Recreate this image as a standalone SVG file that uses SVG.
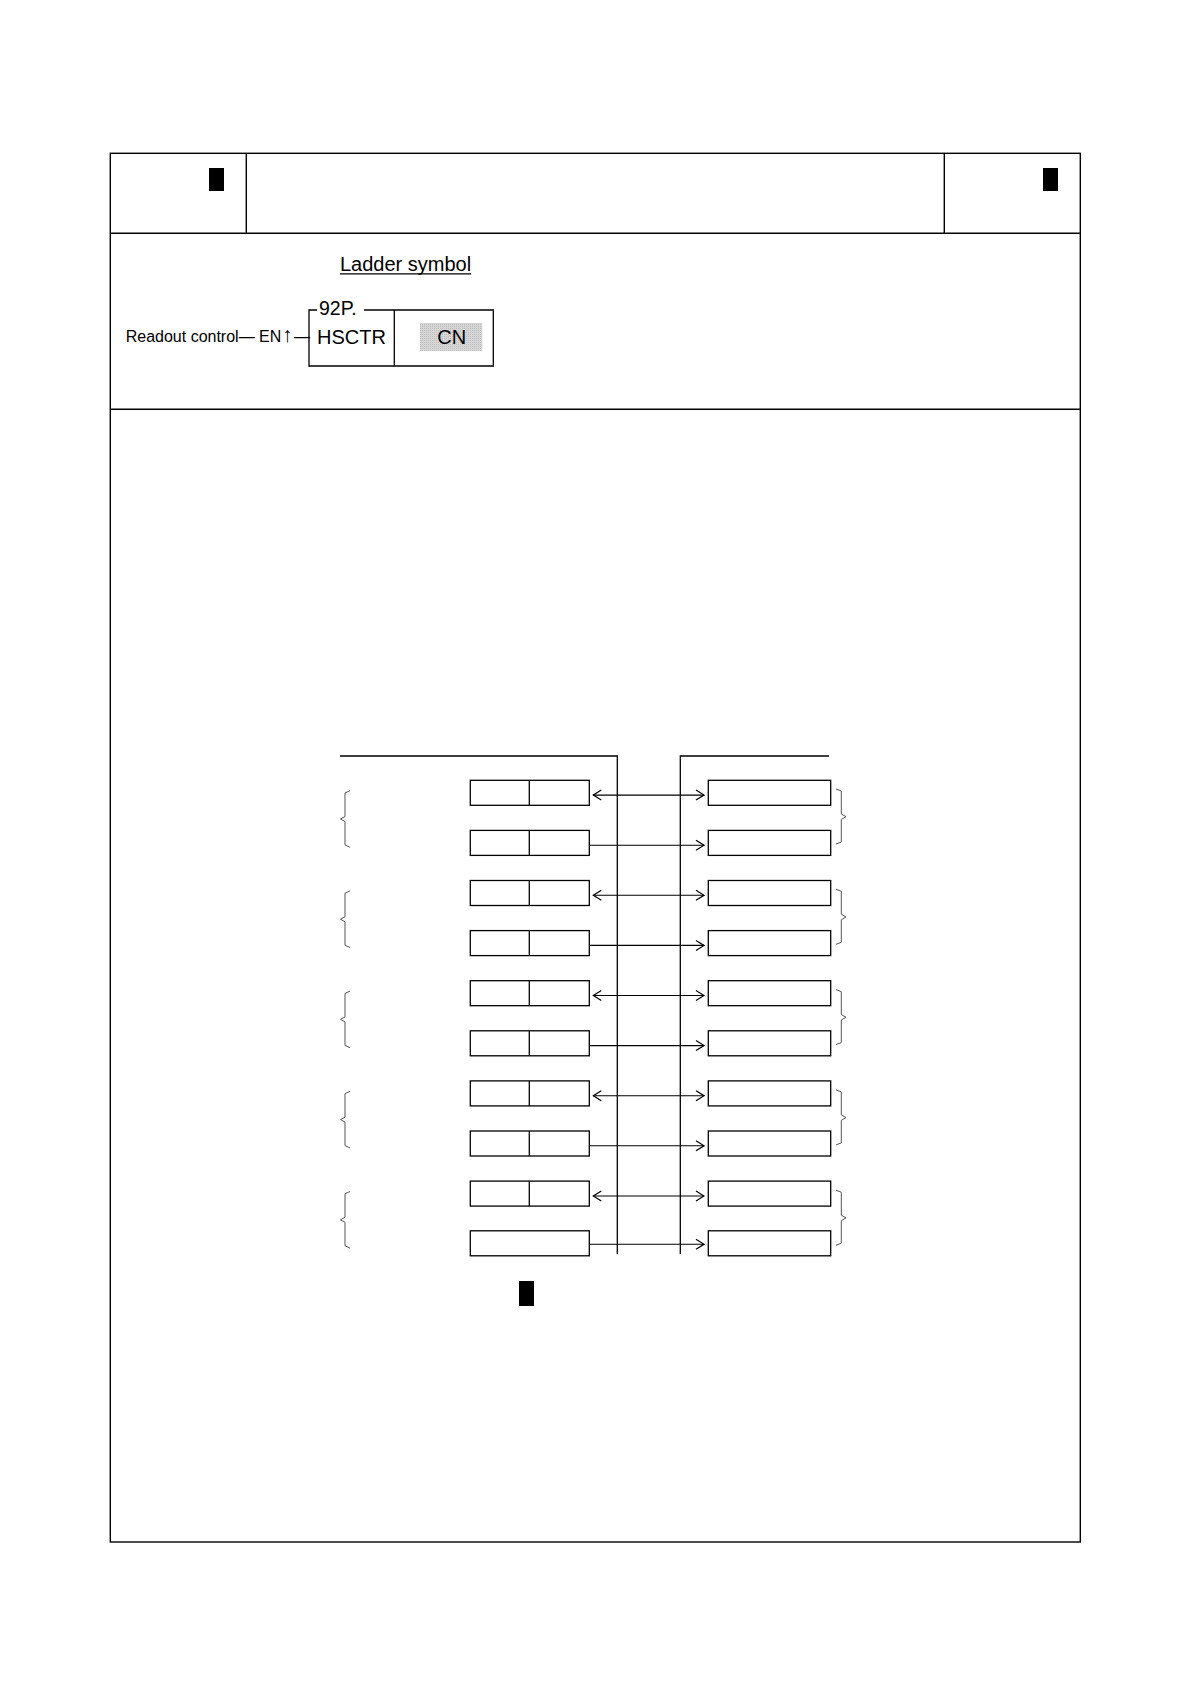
<svg xmlns="http://www.w3.org/2000/svg" width="1190" height="1684" viewBox="0 0 1190 1684">
<style>
.frame{fill:none;stroke:#000;stroke-width:1.4}
.ln{fill:none;stroke:#000;stroke-width:1.3}
.box{fill:#fff;stroke:#000;stroke-width:1.3}
.brace{fill:none;stroke:#555;stroke-width:1}
.conn{fill:none;stroke:#000;stroke-width:1.1}
.blk{fill:#000}
.t{font-family:"Liberation Sans",Arial,sans-serif;fill:#000}
</style>
<defs>
<marker id="ah" viewBox="0 0 10 12" refX="9" refY="6" markerWidth="10" markerHeight="12" markerUnits="userSpaceOnUse" orient="auto-start-reverse">
<path d="M1,1 L9,6 L1,11" fill="none" stroke="#000" stroke-width="1.2"/>
</marker>
<pattern id="hatch" width="2" height="2" patternUnits="userSpaceOnUse">
<rect width="2" height="2" fill="#d6d6d6"/>
<rect width="1" height="1" fill="#bdbdbd"/>
</pattern>
</defs>
<rect width="1190" height="1684" fill="#fff"/>

<g id="frame">
<rect class="frame" x="110.3" y="153.3" width="970" height="1388.7"/>
<line class="frame" x1="110.3" y1="233.3" x2="1080.3" y2="233.3"/>
<line class="frame" x1="246.3" y1="153.3" x2="246.3" y2="233.3"/>
<line class="frame" x1="944.3" y1="153.3" x2="944.3" y2="233.3"/>
<line class="frame" x1="110.3" y1="409.3" x2="1080.3" y2="409.3"/>
<rect class="blk" x="209" y="168" width="15" height="23"/>
<rect class="blk" x="1043" y="168" width="15" height="23"/>
</g>

<g id="ladder">
<text class="t" x="340" y="271" font-size="20">Ladder symbol</text>
<line class="ln" x1="340" y1="273.8" x2="471" y2="273.8"/>
<text class="t" x="125.7" y="341.7" font-size="16">Readout control— EN<tspan x="282" font-size="21">↑</tspan><tspan x="294">—</tspan></text>
<path class="ln" d="M317,310 L309,310 L309,366 L493.3,366 L493.3,310 L364,310"/>
<line class="ln" x1="394.3" y1="310" x2="394.3" y2="366"/>
<text class="t" x="319" y="315" font-size="19.5">92P.</text>
<text class="t" x="317" y="343.7" font-size="20">HSCTR</text>
<rect x="420" y="323" width="62.3" height="28" fill="url(#hatch)"/>
<text class="t" x="451.8" y="343.7" font-size="20" text-anchor="middle">CN</text>
</g>

<g id="rails">
<path class="ln" d="M340,756 L617.3,756 L617.3,1254.3"/>
<path class="ln" d="M829,756 L680.3,756 L680.3,1254.3"/>
</g>

<g id="left-boxes">
<g id="L1"><rect class="box" x="470.3" y="780.3" width="119" height="25"/><line class="ln" x1="529.3" y1="780.3" x2="529.3" y2="805.3"/></g>
<g id="L2"><rect class="box" x="470.3" y="830.4" width="119" height="25"/><line class="ln" x1="529.3" y1="830.4" x2="529.3" y2="855.4"/></g>
<g id="L3"><rect class="box" x="470.3" y="880.5" width="119" height="25"/><line class="ln" x1="529.3" y1="880.5" x2="529.3" y2="905.5"/></g>
<g id="L4"><rect class="box" x="470.3" y="930.6" width="119" height="25"/><line class="ln" x1="529.3" y1="930.6" x2="529.3" y2="955.6"/></g>
<g id="L5"><rect class="box" x="470.3" y="980.7" width="119" height="25"/><line class="ln" x1="529.3" y1="980.7" x2="529.3" y2="1005.7"/></g>
<g id="L6"><rect class="box" x="470.3" y="1030.8" width="119" height="25"/><line class="ln" x1="529.3" y1="1030.8" x2="529.3" y2="1055.8"/></g>
<g id="L7"><rect class="box" x="470.3" y="1080.9" width="119" height="25"/><line class="ln" x1="529.3" y1="1080.9" x2="529.3" y2="1105.9"/></g>
<g id="L8"><rect class="box" x="470.3" y="1131" width="119" height="25"/><line class="ln" x1="529.3" y1="1131" x2="529.3" y2="1156"/></g>
<g id="L9"><rect class="box" x="470.3" y="1181.1" width="119" height="25"/><line class="ln" x1="529.3" y1="1181.1" x2="529.3" y2="1206.1"/></g>
<g id="L10"><rect class="box" x="470.3" y="1230.8" width="119" height="25"/></g>
</g>

<g id="right-boxes">
<rect id="R1" class="box" x="708.3" y="780.3" width="122.4" height="25"/>
<rect id="R2" class="box" x="708.3" y="830.4" width="122.4" height="25"/>
<rect id="R3" class="box" x="708.3" y="880.5" width="122.4" height="25"/>
<rect id="R4" class="box" x="708.3" y="930.6" width="122.4" height="25"/>
<rect id="R5" class="box" x="708.3" y="980.7" width="122.4" height="25"/>
<rect id="R6" class="box" x="708.3" y="1030.8" width="122.4" height="25"/>
<rect id="R7" class="box" x="708.3" y="1080.9" width="122.4" height="25"/>
<rect id="R8" class="box" x="708.3" y="1131" width="122.4" height="25"/>
<rect id="R9" class="box" x="708.3" y="1181.1" width="122.4" height="25"/>
<rect id="R10" class="box" x="708.3" y="1230.8" width="122.4" height="25"/>
</g>

<g id="braces">
<path class="brace" d="M350,790.7 L345,793 L345,816.5 L340.5,819 L345,821.5 L345,845 L350,847.3"/>
<path class="brace" d="M350,890.9 L345,893.2 L345,916.7 L340.5,919.2 L345,921.7 L345,945.2 L350,947.5"/>
<path class="brace" d="M350,991.1 L345,993.4 L345,1016.9 L340.5,1019.4 L345,1021.9 L345,1045.4 L350,1047.7"/>
<path class="brace" d="M350,1091.3 L345,1093.6 L345,1117.1 L340.5,1119.6 L345,1122.1 L345,1145.6 L350,1147.9"/>
<path class="brace" d="M350,1191.5 L345,1193.8 L345,1217.3 L340.5,1219.8 L345,1222.3 L345,1245.8 L350,1248.1"/>
<path class="brace" d="M836,789 L841.3,791 L841.3,814 L846,816.7 L841.3,819.4 L841.3,842 L836,844"/>
<path class="brace" d="M836,889.3 L841.3,891.3 L841.3,914.3 L846,917 L841.3,919.7 L841.3,942.3 L836,944.3"/>
<path class="brace" d="M836,989.6 L841.3,991.6 L841.3,1014.6 L846,1017.3 L841.3,1020 L841.3,1042.6 L836,1044.6"/>
<path class="brace" d="M836,1089.9 L841.3,1091.9 L841.3,1114.9 L846,1117.6 L841.3,1120.3 L841.3,1142.9 L836,1144.9"/>
<path class="brace" d="M836,1190.2 L841.3,1192.2 L841.3,1215.2 L846,1217.9 L841.3,1220.6 L841.3,1243.2 L836,1245.2"/>
</g>

<g id="connectors">
<line class="conn" x1="593.3" y1="795.1" x2="704" y2="795.1" marker-start="url(#ah)" marker-end="url(#ah)"/>
<line class="conn" x1="589.3" y1="845.2" x2="704" y2="845.2" marker-end="url(#ah)"/>
<line class="conn" x1="593.3" y1="895.3" x2="704" y2="895.3" marker-start="url(#ah)" marker-end="url(#ah)"/>
<line class="conn" x1="589.3" y1="945.4" x2="704" y2="945.4" marker-end="url(#ah)"/>
<line class="conn" x1="593.3" y1="995.5" x2="704" y2="995.5" marker-start="url(#ah)" marker-end="url(#ah)"/>
<line class="conn" x1="589.3" y1="1045.6" x2="704" y2="1045.6" marker-end="url(#ah)"/>
<line class="conn" x1="593.3" y1="1095.7" x2="704" y2="1095.7" marker-start="url(#ah)" marker-end="url(#ah)"/>
<line class="conn" x1="589.3" y1="1145.8" x2="704" y2="1145.8" marker-end="url(#ah)"/>
<line class="conn" x1="593.3" y1="1196" x2="704" y2="1196" marker-start="url(#ah)" marker-end="url(#ah)"/>
<line class="conn" x1="589.3" y1="1244.3" x2="704" y2="1244.3" marker-end="url(#ah)"/>
</g>

<rect id="marker-bottom" class="blk" x="519" y="1281" width="15" height="25"/>
</svg>
